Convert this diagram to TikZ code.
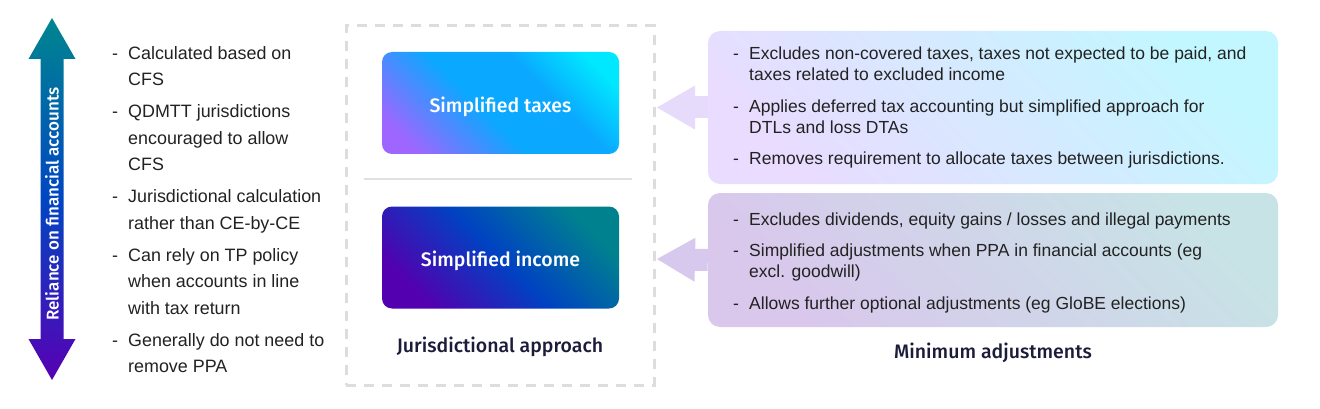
\documentclass[tikz,border=0pt]{standalone}
\usepackage{fontspec}
\setmainfont{Liberation Sans}
\newfontfamily\headfont{Fira Sans}[UprightFont=* Medium]
\usetikzlibrary{arrows.meta,positioning}

\definecolor{bodyink}{HTML}{222222}
\definecolor{headink}{HTML}{1C1B3A}
\definecolor{dashgrey}{HTML}{DDDDDD}
\definecolor{sepgrey}{HTML}{E0E0E0}
\definecolor{taxlo}{HTML}{9F66FF}
\definecolor{taxmid}{HTML}{0AA8FF}
\definecolor{taxhi}{HTML}{00E8FF}
\definecolor{inclo}{HTML}{5200B0}
\definecolor{incmid}{HTML}{0042C2}
\definecolor{inchi}{HTML}{00828E}
\definecolor{taxpanello}{HTML}{E9DCFF}
\definecolor{taxpanelhi}{HTML}{C2F7FF}
\definecolor{incpanello}{HTML}{D9C7EC}
\definecolor{incpanelhi}{HTML}{C7E3E6}
\definecolor{arrowtax}{HTML}{E6DBFB}
\definecolor{arrowinc}{HTML}{D7C8EE}
\definecolor{relytop}{HTML}{00868F}
\definecolor{relymid}{HTML}{0046C2}
\definecolor{relybot}{HTML}{5800B4}

\pgfdeclarehorizontalshading{taxshade}{100bp}{color(0bp)=(taxlo); color(22bp)=(taxlo); color(45bp)=(taxmid); color(62bp)=(taxmid); color(78bp)=(taxhi); color(100bp)=(taxhi)}
\pgfdeclarehorizontalshading{incomeshade}{100bp}{color(0bp)=(inclo); color(25bp)=(inclo); color(50bp)=(incmid); color(75bp)=(inchi); color(100bp)=(inchi)}
\pgfdeclarehorizontalshading{taxpanelshade}{100bp}{color(0bp)=(taxpanello); color(25bp)=(taxpanello); color(75bp)=(taxpanelhi); color(100bp)=(taxpanelhi)}
\pgfdeclarehorizontalshading{incpanelshade}{100bp}{color(0bp)=(incpanello); color(25bp)=(incpanello); color(75bp)=(incpanelhi); color(100bp)=(incpanelhi)}
\pgfdeclareverticalshading{relyshade}{100bp}{color(0bp)=(relybot); color(25bp)=(relybot); color(50bp)=(relymid); color(75bp)=(relytop); color(100bp)=(relytop)}

\begin{document}
\begin{tikzpicture}[x=1pt,y=-1pt,
headbox/.style={shade, rounded corners=10pt, minimum width=237pt, minimum height=102pt, inner sep=0pt, shading angle=45, text=white, text height=18.5pt, text depth=0pt, font=\headfont\fontsize{19.5}{22}\selectfont},
panel/.style={shade, rounded corners=12pt, minimum width=570pt, inner sep=0pt, shading angle=45},
bullets/.style={anchor=base west, inner sep=0pt, text=bodyink},
caption/.style={anchor=base, inner sep=0pt, text=headink, font=\headfont\fontsize{19.5}{22}\selectfont},
blockarrow/.style={line width=22pt, -{Triangle[length=38pt,width=44pt,line width=0pt]}},
]
\useasboundingbox[fill=white] (0,0) rectangle (1320,409);

\shade[shading=relyshade] (52,18) -- (75.5,59) -- (63.5,59) -- (63.5,339) -- (75.5,339) -- (52,380) -- (28.5,339) -- (40.5,339) -- (40.5,59) -- (28.5,59) -- cycle;
\node[rotate=90, inner sep=0pt, text=white, font=\headfont\fontsize{17}{20}\selectfont] (relylabel) at (52,204) {Reliance on financial accounts};

\node[bullets, font=\fontsize{17.9}{26.5}\selectfont] (cfslist) at (112,59.5) {\begin{tabular}[t]{@{}p{16pt}@{}l@{}}
- & Calculated based on\\
  & CFS\\[5.4pt]
- & QDMTT jurisdictions\\
  & encouraged to allow\\
  & CFS\\[5.4pt]
- & Jurisdictional calculation\\
  & rather than CE-by-CE\\[5.4pt]
- & Can rely on TP policy\\
  & when accounts in line\\
  & with tax return\\[5.4pt]
- & Generally do not need to\\
  & remove PPA
\end{tabular}};

\node[draw=dashgrey, line width=3pt, dash pattern=on 10pt off 8pt, minimum width=308pt, minimum height=359pt] (approach) at (500,205.5) {};
\node[headbox, shading=taxshade] (taxes) at (500.5,103) {Simplified taxes};
\node[headbox, shading=incomeshade] (income) at (500.5,257.5) {Simplified income};
\draw[sepgrey, line width=2pt] (364,179) -- (632,179);
\node[caption] (approachlabel) at (500,352) {Jurisdictional approach};

\node[panel, shading=taxpanelshade, minimum height=153pt] (taxpanel) at (993,107.5) {};
\node[panel, shading=incpanelshade, minimum height=134pt] (incomepanel) at (993,260) {};
\coordinate (taxtip) at (657,107.5);
\coordinate (incometip) at (657,259);
\draw[blockarrow, arrowtax] (taxpanel.west) -- (taxtip);
\draw[blockarrow, arrowinc] (incomepanel.west) -- (incometip);

\node[bullets, font=\fontsize{17.5}{21}\selectfont] (taxlist) at (733,60) {\begin{tabular}[t]{@{}p{16pt}@{}l@{}}
- & Excludes non-covered taxes, taxes not expected to be paid, and\\
  & taxes related to excluded income\\[10.5pt]
- & Applies deferred tax accounting but simplified approach for\\
  & DTLs and loss DTAs\\[10.5pt]
- & Removes requirement to allocate taxes between jurisdictions.
\end{tabular}};
\node[bullets, font=\fontsize{17.5}{21}\selectfont] (incomelist) at (733,225) {\begin{tabular}[t]{@{}p{16pt}@{}l@{}}
- & Excludes dividends, equity gains / losses and illegal payments\\[10.5pt]
- & Simplified adjustments when PPA in financial accounts (eg\\
  & excl. goodwill)\\[10.5pt]
- & Allows further optional adjustments (eg GloBE elections)
\end{tabular}};
\node[caption] (minlabel) at (993,358) {Minimum adjustments};
\end{tikzpicture}
\end{document}
